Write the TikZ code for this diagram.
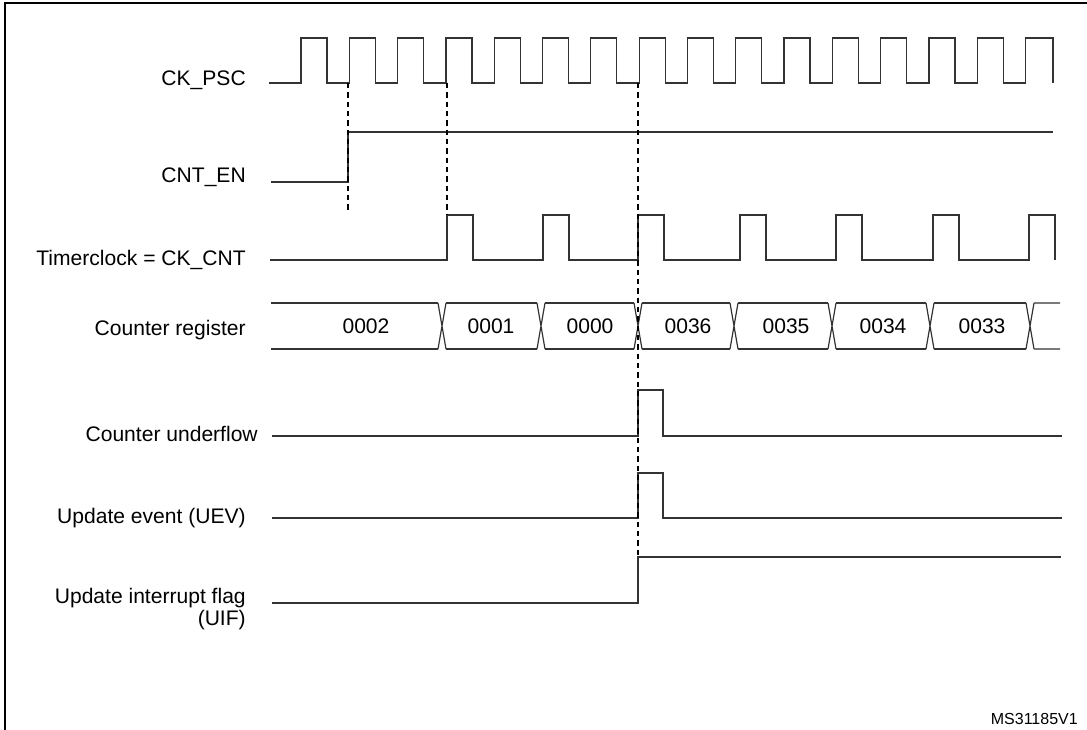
\documentclass[tikz,border=0pt]{standalone}
\usepackage{fontspec}
\setmainfont{Liberation Sans}
\begin{document}
\begin{tikzpicture}[x=0.75pt,y=-0.75pt,
  wave/.style={line width=0.9pt,black!80},
  guide/.style={line width=0.9pt,dash pattern=on 4pt off 3pt},
  lbl/.style={anchor=east,font=\fontsize{15.8}{16.5}\selectfont,align=right,inner sep=0pt},
  val/.style={font=\fontsize{15.8}{17}\selectfont,inner sep=0pt}]
\useasboundingbox (0,0) rectangle (1087,730);
\draw[line width=2.2pt] (5,730) -- (5,3) -- (1087,3);
% labels
\node[lbl] (l1) at (246,80) {CK\_PSC};
\node[lbl] (l2) at (246,177) {CNT\_EN};
\node[lbl] (l3) at (246,260) {Timerclock = CK\_CNT};
\node[lbl] (l4) at (246,330) {Counter register};
\node[lbl] (l5) at (258,434) {Counter underflow};
\node[lbl] (l6) at (246,518) {Update event (UEV)};
\node[lbl] (l7) at (246,609) {Update interrupt flag\\(UIF)};
\node[anchor=east,inner sep=0pt,font=\fontsize{12}{13}\selectfont] (ms) at (1078,719) {MS31185V1};
% CK_PSC
\draw[wave] (269,83)
  \foreach \k in {0,...,14} { -- ({301+48.3*\k},83) -- ({301+48.3*\k},38) -- ({327+48.3*\k},38) -- ({327+48.3*\k},83) }
  -- (1025.5,83) -- (1025.5,38) -- (1053,38) -- (1053,83);
% CNT_EN
\draw[wave] (271,182) -- (348,182) -- (348,132) -- (1053,132);
% Timerclock
\draw[wave] (270,260) -- (447,260)
  \foreach \a in {447,543,638,740,836,933} { -- (\a,260) -- (\a,215) -- ({\a+26},215) -- ({\a+26},260) }
  -- (1029,260) -- (1029,215) -- (1055,215) -- (1055,260);
% Counter register
\draw[wave] (271,303) -- (438,303) (271,349) -- (438,349);
\foreach \c/\n in {442/541,541/638,638/734,734/832,832/930,930/1030}{
  \draw[wave] ({\c-4},303) -- ({\c+4},349) ({\c-4},349) -- ({\c+4},303);
  \draw[wave] ({\c+4},303) -- ({\n-4},303) ({\c+4},349) -- ({\n-4},349);
}
\draw[wave] (1026,303) -- (1034,349) (1026,349) -- (1034,303) (1034,303) -- (1060,303) (1034,349) -- (1060,349);
\node[val] (v1) at (366,326) {0002};
\node[val] (v2) at (491,326) {0001};
\node[val] (v3) at (590,326) {0000};
\node[val] (v4) at (688,326) {0036};
\node[val] (v5) at (786,326) {0035};
\node[val] (v6) at (883,326) {0034};
\node[val] (v7) at (982,326) {0033};
% underflow
\draw[wave] (272,436) -- (638,436) -- (638,390) -- (663,390) -- (663,436) -- (1062,436);
% UEV
\draw[wave] (272,518) -- (638,518) -- (638,473) -- (663,473) -- (663,518) -- (1062,518);
% UIF
\draw[wave] (272,603) -- (638,603) -- (638,557) -- (1061,557);
% guides
\draw[guide] (348,83) -- (348,213);
\draw[guide] (447,83) -- (447,215);
\draw[guide] (638,83) -- (638,557);
\end{tikzpicture}
\end{document}
